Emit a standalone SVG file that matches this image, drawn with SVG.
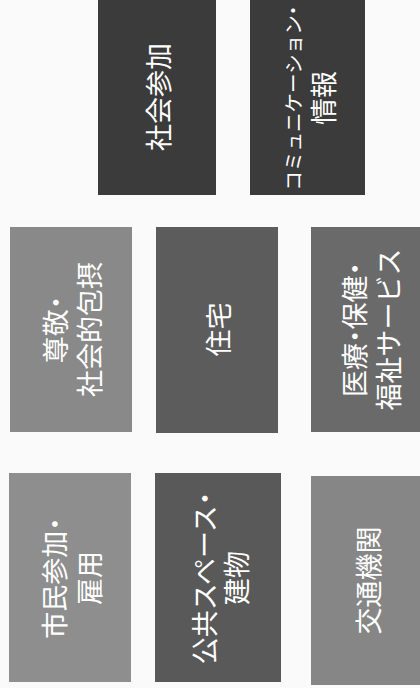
<svg xmlns="http://www.w3.org/2000/svg" width="420" height="688" viewBox="0 0 420 688">
<style>
.bg{fill:#fafafa}
.t{font-family:"Noto Sans CJK JP","Noto Sans",sans-serif;font-size:27px;fill:#ffffff;text-anchor:middle;dominant-baseline:central;font-feature-settings:"halt"}
.s{font-size:19.5px}
</style>
<rect class="bg" x="0" y="0" width="420" height="688"/>
<g id="connectors"/>
<g id="n-social">
<rect x="98" y="-2" width="118" height="197" fill="#3b3b3b"/>
<text class="t" transform="translate(157,97) rotate(-90)"><tspan x="0" y="0">社会参加</tspan></text>
</g>
<g id="n-comm">
<rect x="250" y="-2" width="115" height="197" fill="#3b3b3b"/>
<text class="t" transform="translate(307,98) rotate(-90)"><tspan class="s" x="0" y="-15">コミュニケーション・</tspan><tspan x="0" y="15">情報</tspan></text>
</g>
<g id="n-respect">
<rect x="10" y="227" width="122" height="205" fill="#898989"/>
<text class="t" transform="translate(71,329.5) rotate(-90)"><tspan x="0" y="-17">尊敬・</tspan><tspan x="0" y="17">社会的包摂</tspan></text>
</g>
<g id="n-housing">
<rect x="156" y="227" width="122" height="206" fill="#5c5c5c"/>
<text class="t" transform="translate(217,329.5) rotate(-90)"><tspan x="0" y="0">住宅</tspan></text>
</g>
<g id="n-health">
<rect x="311" y="227" width="118" height="205" fill="#6a6a6a"/>
<text class="t" transform="translate(370,329.5) rotate(-90)"><tspan x="0" y="-17">医療・保健・</tspan><tspan x="0" y="17">福祉サービス</tspan></text>
</g>
<g id="n-civic">
<rect x="9" y="473" width="122" height="209" fill="#8e8e8e"/>
<text class="t" transform="translate(70.5,578) rotate(-90)"><tspan x="0" y="-17.5">市民参加・</tspan><tspan x="0" y="17.5">雇用</tspan></text>
</g>
<g id="n-public">
<rect x="155" y="473" width="126" height="209" fill="#595959"/>
<text class="t" transform="translate(219,578) rotate(-90)"><tspan x="0" y="-16">公共スペース・</tspan><tspan x="0" y="16">建物</tspan></text>
</g>
<g id="n-transport">
<rect x="311" y="476" width="118" height="209" fill="#868686"/>
<text class="t" transform="translate(367,580.5) rotate(-90)"><tspan x="0" y="0">交通機関</tspan></text>
</g>
</svg>
